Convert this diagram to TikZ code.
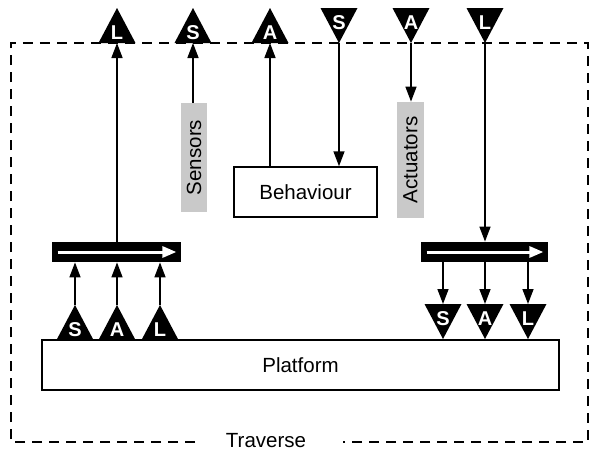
\documentclass[tikz,border=0pt]{standalone}
\usepackage{fontspec}
\setmainfont{Liberation Sans}
\usetikzlibrary{arrows.meta}

% Signal triangles: name, x, y of the flat side, letter
\newcommand\sigUp[4]{%
  \fill ({#2-18.5},#3) -- (#2,{#3-35}) -- ({#2+18.5},#3) -- cycle;
  \coordinate (#1-tip) at (#2,{#3-35});
  \coordinate (#1-flat) at (#2,#3);
  \node[sigletter] (#1) at (#2,{#3-10.5}) {#4};
}
\newcommand\sigDown[4]{%
  \fill ({#2-18.5},#3) -- (#2,{#3+35}) -- ({#2+18.5},#3) -- cycle;
  \coordinate (#1-tip) at (#2,{#3+35});
  \coordinate (#1-flat) at (#2,#3);
  \node[sigletter] (#1) at (#2,{#3+15}) {#4};
}

\begin{document}
\begin{tikzpicture}[x=0.5pt,y=-0.5pt,
  txt/.style={font=\fontsize{10.25}{12}\selectfont},
  sig/.style={line width=0.75pt,-{Triangle[length=7.5pt,width=5.5pt]}},
  frame/.style={line width=0.6pt,dash pattern=on 5pt off 3.5pt},
  box/.style={draw,line width=0.75pt,fill=white,inner sep=0pt,txt},
  gbox/.style={fill=black!21,inner sep=0pt,rotate=90,txt},
  bus/.style={fill=black,inner sep=0pt,minimum height=10pt},
  busarrow/.style={white,line width=1.5pt,-{Triangle[length=7pt,width=5.5pt]}},
  sigletter/.style={text=white,inner sep=0pt,font=\bfseries\fontsize{10}{11}\selectfont}
]
\useasboundingbox (0,0) rectangle (590,450);

% Traverse boundary
\draw[frame] (195,442) -- (11,442) -- (11,43) -- (588,43) -- (588,442) -- (343,442);
\node[txt] (trav) at (266,441) {Traverse};

% Components
\node[box,minimum width=258.5pt,minimum height=25pt] (plat) at (300.5,365) {Platform};
\node[box,minimum width=71.5pt,minimum height=25pt] (beh) at (305.5,192) {Behaviour};
\node[gbox,minimum width=54.5pt,minimum height=13pt] (sens) at (194,157.5) {Sensors};
\node[gbox,minimum width=58pt,minimum height=13.5pt] (act) at (410.5,160) {Actuators};

% Buses
\node[bus,minimum width=64.5pt] (lbus) at (116.5,252) {};
\node[bus,minimum width=63.5pt] (rbus) at (484.5,252) {};
\draw[busarrow] ([xshift=3pt]lbus.west) -- ([xshift=-2.5pt]lbus.east);
\draw[busarrow] ([xshift=3pt]rbus.west) -- ([xshift=-2.5pt]rbus.east);

% Outer signals
\sigUp{oL}{117}{43}{L}
\sigUp{oS}{193}{43}{S}
\sigUp{oA}{270}{43}{A}
\sigDown{iS}{339}{8}{S}
\sigDown{iA}{411}{8}{A}
\sigDown{iL}{485}{8}{L}

% Platform signals
\sigUp{pS}{75}{340}{S}
\sigUp{pA}{117}{340}{A}
\sigUp{pL}{160}{340}{L}
\sigDown{qS}{443}{304}{S}
\sigDown{qA}{485}{304}{A}
\sigDown{qL}{528}{304}{L}

% Connectors
\draw[sig] (oL-flat |- lbus.north) -- (oL-flat);
\draw[sig] (oS-flat |- sens.east) -- (oS-flat);
\draw[sig] (oA-flat |- beh.north) -- (oA-flat);
\draw[sig] (iS-tip) -- (iS-tip |- beh.north);
\draw[sig] (iA-tip) -- (iA-tip |- act.east);
\draw[sig] (iL-tip) -- (iL-tip |- rbus.north);

\draw[sig] (pS-tip) -- (pS-tip |- lbus.south);
\draw[sig] (pA-tip) -- (pA-tip |- lbus.south);
\draw[sig] (pL-tip) -- (pL-tip |- lbus.south);
\draw[sig] (qS-flat |- rbus.south) -- (qS-flat);
\draw[sig] (qA-flat |- rbus.south) -- (qA-flat);
\draw[sig] (qL-flat |- rbus.south) -- (qL-flat);
\end{tikzpicture}
\end{document}
